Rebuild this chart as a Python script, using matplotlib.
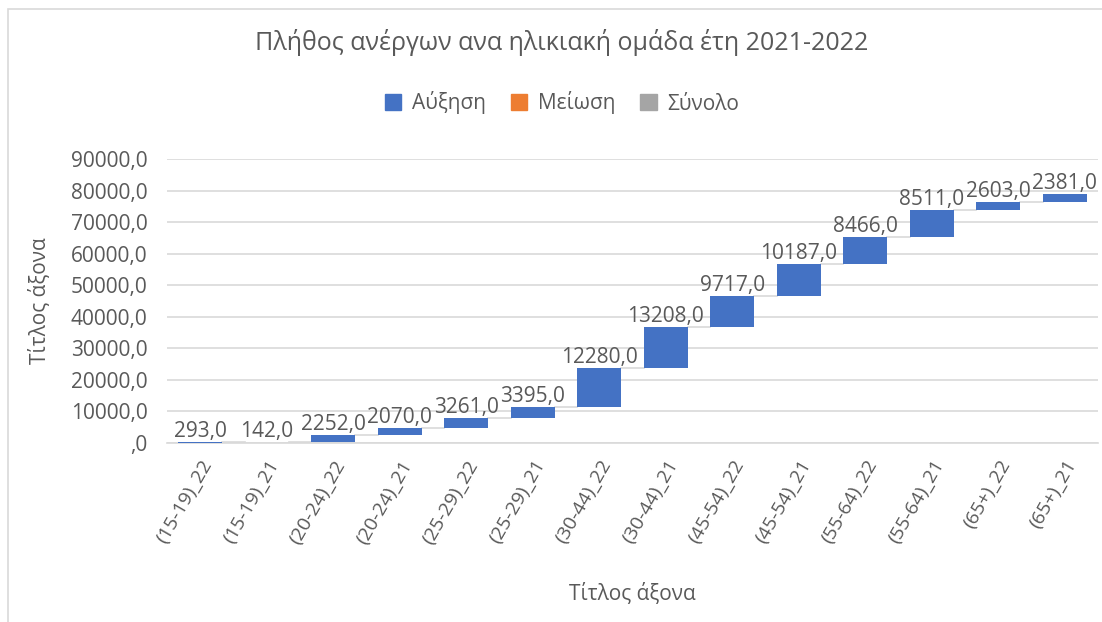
import numpy as np
import matplotlib.pyplot as plt
from matplotlib.patches import Patch, Rectangle

plt.rcParams['font.family'] = ['Open Sans', 'DejaVu Sans']

# δεδομένα
categories = ['(15-19)_22', '(15-19)_21', '(20-24)_22', '(20-24)_21',
              '(25-29)_22', '(25-29)_21', '(30-44)_22', '(30-44)_21',
              '(45-54)_22', '(45-54)_21', '(55-64)_22', '(55-64)_21',
              '(65+)_22', '(65+)_21']
values = [293, 142, 2252, 2070, 3261, 3395, 12280, 13208,
          9717, 10187, 8466, 8511, 2603, 2381]
y_ticks = [0, 10000, 20000, 30000, 40000, 50000, 60000, 70000, 80000, 90000]

title = 'Πλήθος ανέργων ανα ηλικιακή ομάδα έτη 2021-2022'
legend_labels = ['Αύξηση', 'Μείωση', 'Σύνολο']
axis_title = 'Τίτλος άξονα'

BLUE = '#4472C4'
ORANGE = '#ED7D31'
GREY = '#A5A5A5'
TXT = '#595959'

fig = plt.figure(figsize=(11.02, 6.22), dpi=100)
ax = fig.add_axes([0.1515, 0.2878, 0.8449, 0.4566])

vals = np.array(values, dtype=float)
ends = np.cumsum(vals)
starts = ends - vals
x = np.arange(len(categories))
width = 0.66

# συνδετικές γραμμές
for i in range(len(x) - 1):
    ax.plot([x[i] + width / 2, x[i + 1] - width / 2], [ends[i], ends[i]],
            color='#D9D9D9', lw=1.2, zorder=2)

ax.bar(x, vals, bottom=starts, width=width, color=BLUE, zorder=3)

for xi, top, v in zip(x, ends, vals):
    ax.annotate(f'{v:.1f}'.replace('.', ','), (xi, top), xytext=(0, 0),
                textcoords='offset points', ha='center', va='bottom',
                fontsize=15, color=TXT, zorder=4)

ax.set_xlim(-0.5, len(categories) - 0.5)
ax.set_ylim(0, 90000)
ax.set_yticks(y_ticks)
ax.set_yticklabels([(',0' if t == 0 else f'{t:.1f}'.replace('.', ',')) for t in y_ticks],
                   fontsize=15, color=TXT)
ax.set_xticks(x)
ax.set_xticklabels(categories, rotation=60, ha='right', va='top',
                   rotation_mode='anchor', fontsize=14, color=TXT)
ax.tick_params(axis='both', length=0)
ax.tick_params(axis='x', pad=10)
ax.tick_params(axis='y', pad=14)
ax.grid(axis='y', color='#D9D9D9', lw=1.2, zorder=0)
for s in ['top', 'right', 'left']:
    ax.spines[s].set_visible(False)
ax.spines['bottom'].set_color('#D9D9D9')
ax.spines['bottom'].set_linewidth(1.2)

ax.set_ylabel(axis_title, fontsize=15, color=TXT, labelpad=14)
ax.set_xlabel(axis_title, fontsize=15, color=TXT, labelpad=26)

fig.text(0.51, 1 - 43 / 622, title, ha='center', va='center',
         fontsize=18, color=TXT)

handles = [Patch(color=c) for c in (BLUE, ORANGE, GREY)]
fig.legend(handles, legend_labels, loc='center', bbox_to_anchor=(0.51, 1 - 103 / 622),
           ncol=3, frameon=False, fontsize=15, labelcolor=TXT,
           handlelength=0.8, handleheight=0.8, handletextpad=0.5, columnspacing=1.2)

# περίγραμμα γραφήματος
fig.patches.append(Rectangle((8 / 1102, -0.1), 1.2, 1 - 9 / 622 + 0.1,
                             transform=fig.transFigure, fill=False,
                             edgecolor='#D9D9D9', lw=1.2))

fig.savefig('out.png', dpi=100)
